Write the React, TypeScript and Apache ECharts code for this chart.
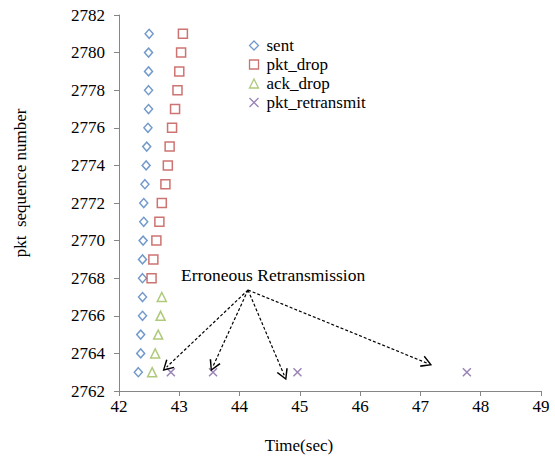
import React, { useEffect, useRef } from "react";
import * as echarts from "echarts";

const sentSeq = [2781, 2780, 2779, 2778, 2777, 2776, 2775, 2774, 2773, 2772, 2771, 2770, 2769, 2768, 2767, 2766, 2765, 2764, 2763];
const sentTime = [42.5, 42.49, 42.49, 42.49, 42.49, 42.48, 42.46, 42.45, 42.43, 42.41, 42.41, 42.4, 42.39, 42.39, 42.39, 42.39, 42.36, 42.36, 42.32];

const dropSeq = [2781, 2780, 2779, 2778, 2777, 2776, 2775, 2774, 2773, 2772, 2771, 2770, 2769, 2768];
const dropTime = [43.06, 43.03, 43.0, 42.97, 42.93, 42.88, 42.84, 42.81, 42.77, 42.71, 42.67, 42.62, 42.57, 42.54];

const ackSeq = [2767, 2766, 2765, 2764, 2763];
const ackTime = [42.71, 42.69, 42.65, 42.6, 42.55];

const retxSeq = [2763, 2763, 2763, 2763];
const retxTime = [42.86, 43.56, 44.96, 47.77];

const arrowStart = [44.14, 2767.37];
const arrowEndX = [42.79, 43.56, 44.74, 47.11];
const arrowEndY = [2763.27, 2763.32, 2762.84, 2763.48];

const annotation = "Erroneous Retransmission";

const FONT = "'Liberation Serif', 'Times New Roman', serif";
const AXIS = "#868686";
const FS = 17;

const zip = (xs: number[], ys: number[]) => xs.map((x, i) => [x, ys[i]]);

const crossPath = "path://M0,0 L10,10 M10,0 L0,10";
const chevron = "path://M0,10 L5,0 L10,10 L8.8,10.6 L5,2.6 L1.2,10.6 Z";

export default function App() {
  const ref = useRef<HTMLDivElement>(null);
  useEffect(() => {
    if (!ref.current) return;
    const chart = echarts.init(ref.current, null, { renderer: "svg" });
    chart.setOption({
      animation: false,
      backgroundColor: "#fff",
      textStyle: { fontFamily: FONT, color: "#000" },
      grid: { left: 119, right: 14, top: 15, bottom: 68 },
      legend: {
        orient: "vertical",
        left: 242,
        top: 32,
        itemWidth: 9,
        itemHeight: 9,
        itemGap: 2,
        itemStyle: { borderWidth: 1.3 },
        textStyle: { fontFamily: FONT, fontSize: FS, color: "#000", lineHeight: 16, padding: [0, 0, 0, 3] },
        data: ["sent", "pkt_drop", "ack_drop", "pkt_retransmit"],
      },
      xAxis: {
        type: "value",
        min: 42,
        max: 49,
        interval: 1,
        name: "Time(sec)",
        nameLocation: "middle",
        nameGap: 46,
        nameTextStyle: { fontFamily: FONT, fontSize: FS, color: "#000", padding: [0, 62, 0, 0] },
        axisLine: { lineStyle: { color: AXIS } },
        axisTick: { show: true, length: 5, lineStyle: { color: AXIS } },
        axisLabel: { fontFamily: FONT, fontSize: FS, color: "#000", margin: 7 },
        splitLine: { show: false },
      },
      yAxis: {
        type: "value",
        min: 2762,
        max: 2782,
        interval: 2,
        name: "pkt  sequence number",
        nameLocation: "middle",
        nameGap: 90,
        nameTextStyle: { fontFamily: FONT, fontSize: FS, color: "#000", padding: [0, 0, 0, 40] },
        axisLine: { show: true, lineStyle: { color: AXIS } },
        axisTick: { show: true, length: 5, lineStyle: { color: AXIS } },
        axisLabel: { fontFamily: FONT, fontSize: FS, color: "#000", margin: 14, formatter: (v: number) => String(v) },
        splitLine: { show: false },
      },
      series: [
        {
          name: "sent",
          type: "scatter",
          symbol: "diamond",
          symbolSize: [8, 9],
          itemStyle: { color: "#fff", borderColor: "#4F81BD", borderWidth: 1.5 },
          data: zip(sentTime, sentSeq),
        },
        {
          name: "pkt_drop",
          type: "scatter",
          symbol: "rect",
          symbolSize: 9,
          itemStyle: { color: "#fff", borderColor: "#C0504D", borderWidth: 1.5 },
          data: zip(dropTime, dropSeq),
        },
        {
          name: "ack_drop",
          type: "scatter",
          symbol: "triangle",
          symbolSize: 9,
          itemStyle: { color: "#fff", borderColor: "#9BBB59", borderWidth: 1.5 },
          data: zip(ackTime, ackSeq),
        },
        {
          name: "pkt_retransmit",
          type: "scatter",
          symbol: crossPath,
          symbolSize: 8,
          itemStyle: { color: "none", borderColor: "#8064A2", borderWidth: 1.5 },
          data: zip(retxTime, retxSeq),
          markLine: {
            silent: true,
            symbol: ["none", chevron],
            symbolSize: [12, 11],
            label: { show: false },
            lineStyle: { color: "#000", type: [3, 2], width: 1.2 },
            data: arrowEndX.map((x, i) => [
              { coord: arrowStart },
              { coord: [x, arrowEndY[i]] },
            ]),
          },
        },
      ],
      graphic: [
        {
          type: "text",
          left: 181,
          top: 266,
          style: { text: annotation, fontFamily: FONT, fontSize: 17.5, fill: "#000" },
        },
      ],
    });
    return () => chart.dispose();
  }, []);
  return <div ref={ref} style={{ width: 555, height: 459, position: "absolute", left: 0, top: 0 }} />;
}
